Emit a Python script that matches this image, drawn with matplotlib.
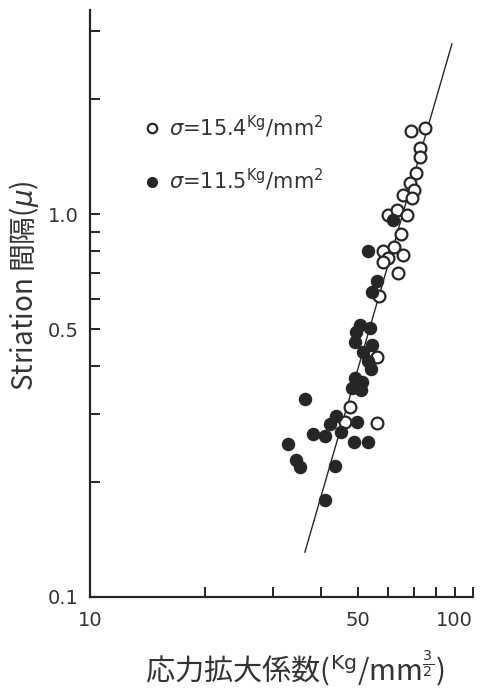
import matplotlib

matplotlib.use("Agg")
import matplotlib.pyplot as plt
from matplotlib.ticker import FixedLocator, NullFormatter

plt.rcParams["font.family"] = ["DejaVu Sans", "Noto Sans CJK JP"]
plt.rcParams["mathtext.fontset"] = "dejavusans"
cjk = ["Noto Sans CJK JP", "DejaVu Sans"]

# sigma = 15.4 kg/mm^2 (open circles)
K_open = [68.9, 74.9, 72.7, 72.7, 71.0, 68.5, 70.2, 65.6, 69.3, 60.0, 63.3, 67.3,
          64.9, 58.2, 62.2, 65.6, 60.0, 58.2, 63.7, 56.8, 56.2, 47.7, 46.3, 56.2]
s_open = [1.647, 1.677, 1.487, 1.409, 1.279, 1.205, 1.155, 1.121, 1.101, 0.994, 1.024, 0.994,
          0.887, 0.800, 0.820, 0.782, 0.768, 0.749, 0.702, 0.611, 0.423, 0.313, 0.286, 0.285]

# sigma = 11.5 kg/mm^2 (filled circles)
K_fill = [61.8, 53.2, 56.2, 54.5, 50.7, 53.8, 49.5, 49.2, 54.5, 51.6, 53.2, 54.2,
          49.2, 51.3, 48.3, 51.0, 36.4, 43.9, 42.3, 49.8, 38.2, 41.1, 45.2, 48.9,
          53.2, 32.9, 34.5, 35.3, 43.6, 41.1]
s_fill = [0.965, 0.800, 0.668, 0.626, 0.513, 0.504, 0.492, 0.463, 0.455, 0.436, 0.413, 0.394,
          0.373, 0.364, 0.351, 0.347, 0.329, 0.297, 0.283, 0.286, 0.266, 0.263, 0.270, 0.254,
          0.254, 0.251, 0.228, 0.218, 0.220, 0.179]

# fitted line end points
K_fit = [36.4, 88.1]
s_fit = [0.131, 2.78]

ink = "#262626"
txt = "#333333"

fig = plt.figure(figsize=(4.82, 6.99), dpi=100)
ax = fig.add_axes([90 / 482, 1 - 597 / 699, 383 / 482, 587 / 699])
ax.set_xscale("log")
ax.set_yscale("log")
ax.set_xlim(10, 100)
ax.set_ylim(0.1, 3.41)

ax.plot(K_fit, s_fit, color=ink, lw=1.0, zorder=1)
ax.plot(K_open, s_open, "o", ms=8.5, mfc="white", mec=ink, mew=1.6, ls="none",
        zorder=2, label=r"$\sigma$=15.4$^{\mathrm{Kg}}$/mm$^{2}$")
ax.plot(K_fill, s_fill, "o", ms=8.5, mfc=ink, mec=ink, mew=1.2, ls="none",
        zorder=3, label=r"$\sigma$=11.5$^{\mathrm{Kg}}$/mm$^{2}$")

for side in ["top", "right"]:
    ax.spines[side].set_visible(False)
for side in ["left", "bottom"]:
    ax.spines[side].set_linewidth(1.6)
    ax.spines[side].set_color(ink)

ax.xaxis.set_major_locator(FixedLocator([10, 50, 100]))
ax.set_xticklabels(["10", "50", "100"])
ax.xaxis.set_minor_locator(FixedLocator([20, 30, 40, 60, 70, 80, 90]))
ax.xaxis.set_minor_formatter(NullFormatter())
ax.yaxis.set_major_locator(FixedLocator([0.1, 0.5, 1.0]))
ax.set_yticklabels(["0.1", "0.5", "1.0"])
ax.yaxis.set_minor_locator(FixedLocator([0.2, 0.3, 0.4, 0.6, 0.7, 0.8, 0.9, 2, 3]))
ax.yaxis.set_minor_formatter(NullFormatter())
ax.tick_params(which="both", direction="in", length=7, width=1.4, color=ink,
               labelsize=14, labelcolor=txt)
ax.tick_params(axis="x", pad=10)
ax.tick_params(axis="y", pad=8)
ax.xaxis.get_majorticklabels()[-1].set_horizontalalignment("right")

ax.set_ylabel("Striation 間隔($\\mu$)", fontsize=20, color=txt, family=cjk)
ax.yaxis.set_label_coords(-0.128, 0.53)
ax.set_xlabel("応力拡大係数($^{\\mathrm{Kg}}$/mm$^{\\frac{3}{2}}$)", fontsize=21,
              color=txt, family=cjk)
ax.xaxis.set_label_coords(0.535, -0.088)

ax.legend(loc="upper left", bbox_to_anchor=(0.09, 0.855), frameon=False,
          handlelength=0.8, handletextpad=0.46, labelspacing=1.3, fontsize=15,
          markerscale=0.8, labelcolor=txt, borderpad=0.4)

fig.savefig("out.png", dpi=100)
